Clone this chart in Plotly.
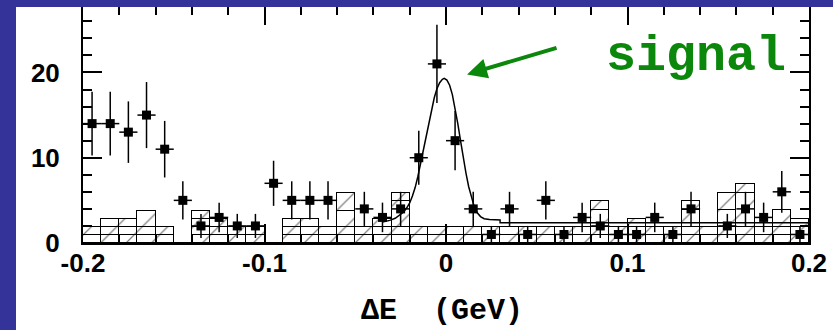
import numpy as np
import plotly.graph_objects as go

# ---------------- data ----------------
bin_centers = [-0.195, -0.185, -0.175, -0.165, -0.155, -0.145, -0.135, -0.125, -0.115, -0.105,
               -0.095, -0.085, -0.075, -0.065, -0.055, -0.045, -0.035, -0.025, -0.015, -0.005,
               0.005, 0.015, 0.025, 0.035, 0.045, 0.055, 0.065, 0.075, 0.085, 0.095,
               0.105, 0.115, 0.125, 0.135, 0.145, 0.155, 0.165, 0.175, 0.185, 0.195]

counts = [14, 14, 13, 15, 11, 5, 2, 3, 2, 2,
          7, 5, 5, 5, 0, 4, 3, 4, 10, 21,
          12, 4, 1, 4, 1, 5, 1, 3, 2, 1,
          1, 3, 1, 4, 0, 2, 4, 3, 6, 1]

# background MC histogram: total height and inner step line (None = no inner line)
hist_total = [1.9, 2.85, 2.85, 3.8, 1.9, 0, 3.8, 2.85, 1.9, 1.9,
              0, 2.85, 2.85, 1.9, 5.9, 1.9, 2.85, 5.9, 1.9, 1.9,
              1.9, 1.9, 1.9, 1.9, 1.9, 1.9, 1.9, 1.9, 4.9, 1.9,
              2.85, 1.9, 1.9, 4.9, 1.9, 5.9, 6.9, 1.9, 3.9, 2.85]
hist_inner = [None, None, None, None, None, None, 2.85, None, None, None,
              None, None, None, None, 3.8, None, None, 4.9, None, None,
              None, None, None, None, None, None, None, None, 3.9, None,
              None, None, None, 3.9, None, 3.9, 5.9, None, None, None]
hist_layer = [0.95 if t > 0 else 0 for t in hist_total]   # horizontal component lines

# fit curve (signal Gaussian on top of background)
fit_x = [-0.035, -0.031, -0.028, -0.0253, -0.0235, -0.0217, -0.020, -0.0185, -0.017, -0.0155,
         -0.014, -0.0125, -0.011, -0.0095, -0.008, -0.0065, -0.005, -0.0035, -0.002, -0.001,
         0.0005, 0.002, 0.0035, 0.005, 0.0065, 0.008, 0.0095, 0.011, 0.0125, 0.014,
         0.0155, 0.017, 0.019, 0.021, 0.024, 0.0298, 0.0298, 0.2]
fit_y = [2.45, 2.65, 2.9, 3.3, 3.6, 4.1, 4.7, 5.5, 6.5, 7.8,
         9.3, 11.0, 12.6, 14.2, 15.7, 17.0, 18.1, 18.8, 19.2, 19.3,
         19.1, 18.5, 17.4, 15.9, 14.0, 12.0, 10.0, 8.2, 6.6, 5.3,
         4.3, 3.6, 3.1, 2.85, 2.75, 2.7, 2.36, 2.36]

x_ticks = [-0.2, -0.1, 0, 0.1, 0.2]
x_ticklabels = ["-0.2", "-0.1", "0", "0.1", "0.2"]
y_ticks = [0, 10, 20]
y_ticklabels = ["0", "10", "20"]

# ---------------- derived pieces ----------------
layer2 = hist_layer
mid = [max((inn if inn is not None else t) - 1.9, 0) if t > 0 else 0 for t, inn in zip(hist_total, hist_inner)]
cap = [(t - inn) if inn is not None else 0 for t, inn in zip(hist_total, hist_inner)]

pts_x = [c for c, n in zip(bin_centers, counts) if n > 0]
pts_y = [n for n in counts if n > 0]
pts_err = list(np.sqrt(pts_y))
half_bin = [0.005] * len(pts_x)

BLUE = "#333399"
GREEN = "#0b870b"

fig = go.Figure()
pattern = dict(shape="/", fgcolor="black", bgcolor="white", size=18, solidity=0.07)
for vals in (hist_layer, layer2, mid, cap):
    fig.add_trace(go.Bar(x=bin_centers, y=vals, width=0.01,
                         marker=dict(color="white", pattern=pattern,
                                     line=dict(color="black", width=1)),
                         hoverinfo="skip"))

fig.add_trace(go.Scatter(x=fit_x, y=fit_y, mode="lines",
                         line=dict(color="black", width=1.5)))

fig.add_trace(go.Scatter(x=pts_x, y=pts_y, mode="markers",
                         marker=dict(symbol="square", size=9, color="black"),
                         error_y=dict(type="data", array=pts_err, color="black", thickness=1.5, width=0),
                         error_x=dict(type="data", array=half_bin, color="black", thickness=1.5, width=0)))

W, H = 833, 330
L, R, T, B = 83, 24, 4, 87
pw, ph = W - L - R, H - T - B

def px(xp):
    return (xp - L) / pw

def py(yp):
    return (H - B - yp) / ph

fig.update_layout(
    width=W, height=H, margin=dict(l=L, r=R, t=T, b=B),
    paper_bgcolor=BLUE, plot_bgcolor="white",
    barmode="stack", bargap=0, showlegend=False,
    shapes=[
        dict(type="rect", xref="paper", yref="paper", x0=px(16), x1=px(840), y0=py(340), y1=py(5),
             fillcolor="white", line=dict(width=0), layer="below"),
        dict(type="rect", xref="paper", yref="paper", x0=px(-5), x1=px(840), y0=py(5), y1=py(-5),
             fillcolor=BLUE, line=dict(width=0), layer="above"),
    ],
)

tickfont = dict(family="Liberation Sans", size=26, color="black", weight="bold")
fig.update_xaxes(range=[-0.2, 0.2], tickvals=x_ticks, ticktext=x_ticklabels,
                 ticks="inside", ticklen=19, tickwidth=1.5, tickcolor="black",
                 minor=dict(dtick=0.02, ticks="inside", ticklen=9, tickwidth=1.5, tickcolor="black"),
                 showline=True, linecolor="black", linewidth=2, mirror="allticks",
                 showgrid=False, zeroline=False, tickfont=tickfont, ticklabelstandoff=-4)
fig.update_yaxes(range=[0, (H - B - T) / 8.6], tickvals=y_ticks, ticktext=y_ticklabels,
                 ticks="inside", ticklen=19, tickwidth=1.5, tickcolor="black",
                 minor=dict(dtick=2, ticks="inside", ticklen=9, tickwidth=1.5, tickcolor="black"),
                 showline=True, linecolor="black", linewidth=2, mirror="allticks",
                 showgrid=False, zeroline=False, tickfont=tickfont, ticklabelstandoff=16)

# annotations
fig.add_annotation(x=0.1377, y=21.9, xref="x", yref="y", text="<b>signal</b>", showarrow=False,
                   font=dict(family="Liberation Mono", size=50, color=GREEN),
                   xanchor="center", yanchor="middle")
fig.add_annotation(x=0.0116, y=19.77, xref="x", yref="y", text="", showarrow=True,
                   ax=91, ay=-27, arrowhead=2, arrowsize=1, arrowwidth=4, arrowcolor=GREEN)
fig.add_annotation(x=px(442), y=py(312), xref="paper", yref="paper", text="<b>ΔE  (GeV)</b>",
                   showarrow=False, font=dict(family="Liberation Mono", size=30, color="black"),
                   xanchor="center", yanchor="middle")

fig.write_html("out.html")
